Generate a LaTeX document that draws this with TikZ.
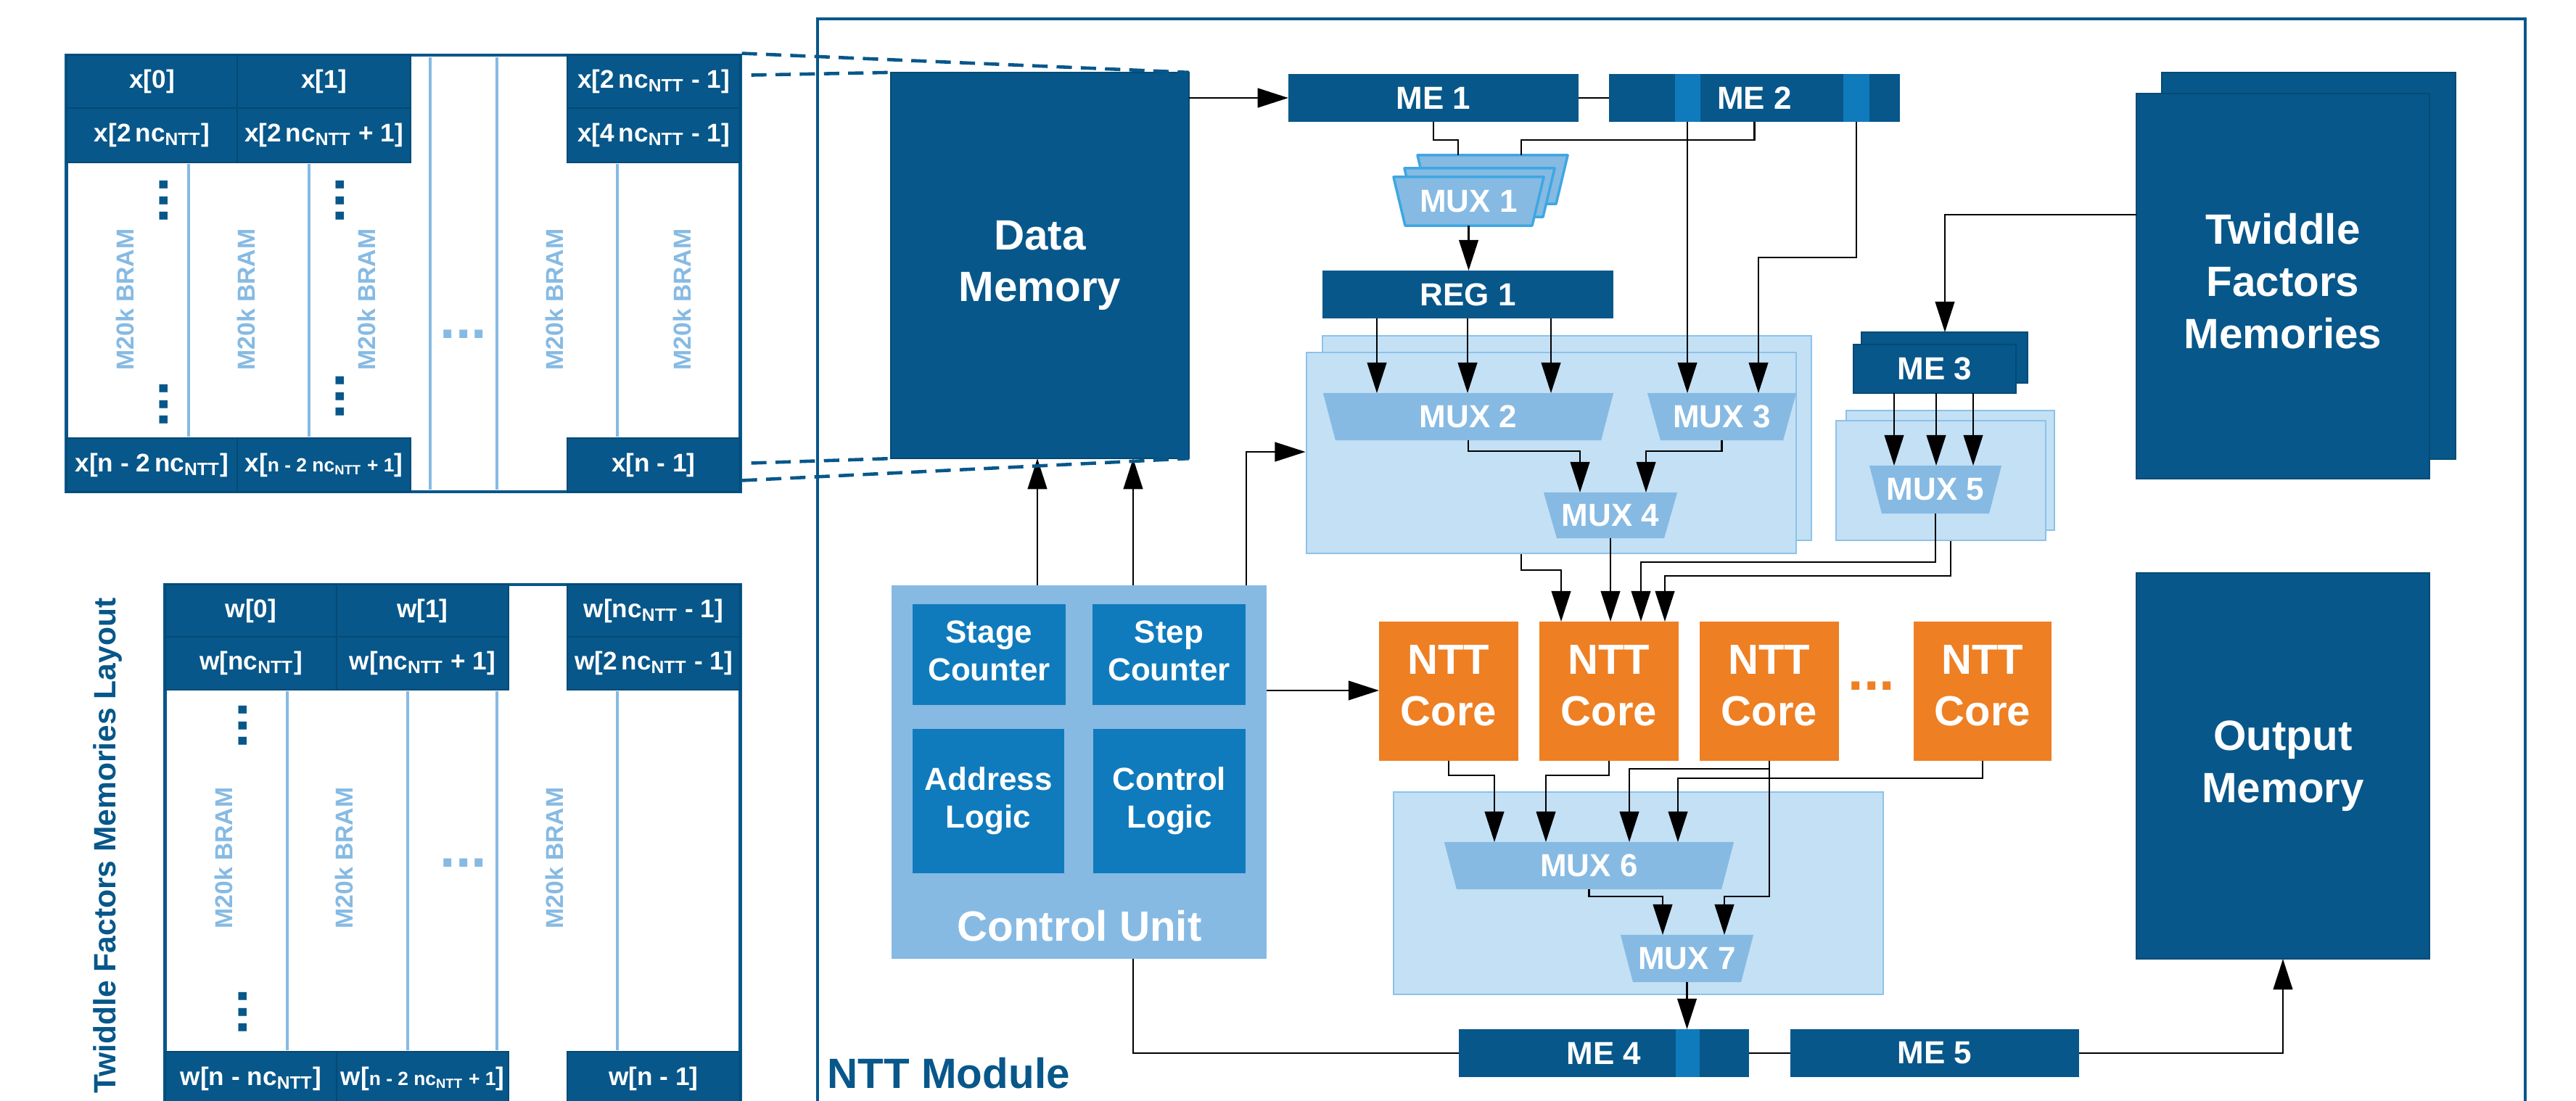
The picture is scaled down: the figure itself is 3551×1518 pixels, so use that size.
\documentclass[tikz,border=0pt]{standalone}
\usepackage{fontspec}
\setmainfont{Liberation Sans}
\usetikzlibrary{arrows.meta,calc}
\definecolor{dkblue}{HTML}{07578A}
\definecolor{dkline}{HTML}{044A75}
\definecolor{midblue}{HTML}{0F7BBC}
\definecolor{ltblue}{HTML}{86BAE3}
\definecolor{paleblue}{HTML}{C3E0F5}
\definecolor{panelline}{HTML}{8DC2E9}
\definecolor{muxline}{HTML}{3EA7E2}
\definecolor{nttorange}{HTML}{EE7F23}
\newcommand\fbig{\fontsize{16.6}{20.4}\selectfont\bfseries}
\newcommand\fcore{\fontsize{16.5}{20.1}\selectfont\bfseries}
\newcommand\fmed{\fontsize{12.5}{14.9}\selectfont\bfseries}
\newcommand\fcell{\fontsize{10}{12}\selectfont\bfseries}
\newcommand\fsmallcell{\fontsize{7.5}{9}\selectfont\bfseries}
\newcommand\fbram{\fontsize{9.6}{11}\selectfont\bfseries}
\newcommand\fdots{\fontsize{22}{22}\selectfont\bfseries}
\newcommand\NTTsub{\textsubscript{NTT}}
\newcommand\lowdepth[1]{\rule[-#1]{0pt}{0pt}}
\pgfdeclarelayer{bg}
\pgfdeclarelayer{mid}
\pgfsetlayers{bg,mid,main}
\tikzset{
  box/.style={rectangle, inner sep=0pt, outer sep=0pt, align=center, text=white},
  dk/.style={box, fill=dkblue, draw=dkline, line width=0.5pt},
  me/.style={box, fill=dkblue, minimum height=0.66cm, font=\fmed},
  muxn/.style={box, font=\fmed},
  panel/.style={rectangle, inner sep=0pt, fill=paleblue, draw=panelline, line width=0.7pt},
  cubox/.style={box, fill=midblue, font=\fmed},
  core/.style={box, fill=nttorange, minimum height=1.92cm, font=\fcore},
  cell/.style={box, fill=dkblue, draw=dkline, line width=0.6pt, font=\fcell},
  bram/.style={rotate=90, text=ltblue, font=\fbram, inner sep=0pt},
  bramline/.style={draw=ltblue, line width=1.1pt},
  tabframe/.style={rectangle, draw=dkblue, line width=1.3pt, inner sep=0pt},
  conn/.style={draw=black, line width=0.6pt},
  arr/.style={conn, -{Triangle[length=12pt,width=7.6pt]}},
  projline/.style={draw=dkblue, line width=1.3pt, dash pattern=on 6pt off 3.5pt},
  vdots/.style={rotate=90, text=dkblue, font=\fdots, inner sep=0pt},
  hdots/.style={text=ltblue, font=\fdots, inner sep=0pt},
}
\begin{document}
\begin{tikzpicture}[x=0.01cm, y=-0.01cm]
\useasboundingbox (0,0) rectangle (3551,1518);
\clip (0,0) rectangle (3551,1518);

\begin{pgfonlayer}{bg}
\fill[white] (0,0) rectangle (3551,1518);
\draw[dkblue, line width=1.3pt] (1127,1600) -- (1127,26) -- (3481,26) -- (3481,1600);
\node[panel, minimum width=6.74cm, minimum height=2.82cm] (pab) at (2160,604) {};
\node[panel, minimum width=6.75cm, minimum height=2.77cm] (paf) at (2138.5,624.5) {};
\node[panel, minimum width=2.87cm, minimum height=1.65cm] (pbb) at (2688.5,648.5) {};
\node[panel, minimum width=2.89cm, minimum height=1.65cm] (pbf) at (2675.5,662.5) {};
\node[panel, minimum width=6.75cm, minimum height=2.79cm] (pc) at (2258.5,1231.5) {};
\end{pgfonlayer}

% ---------- x table ----------
\node[tabframe, minimum width=9.28cm, minimum height=6.02cm] (xtab) at (556,377) {};
\node[cell, minimum width=2.35cm, minimum height=0.73cm] (x11) at (209.5,112.5) {x[0]};
\node[cell, minimum width=2.39cm, minimum height=0.73cm] (x12) at (446.5,112.5) {x[1]};
\node[cell, minimum width=2.38cm, minimum height=0.73cm] (x13) at (901,112.5) {x[2\,nc\NTTsub{} - 1]};
\node[cell, minimum width=2.35cm, minimum height=0.75cm] (x21) at (209.5,186.5) {x[2\,nc\NTTsub]};
\node[cell, minimum width=2.39cm, minimum height=0.75cm] (x22) at (446.5,186.5) {x[2\,nc\NTTsub{} + 1]};
\node[cell, minimum width=2.38cm, minimum height=0.75cm] (x23) at (901,186.5) {x[4\,nc\NTTsub{} - 1]};
\node[cell, minimum width=2.35cm, minimum height=0.74cm] (x31) at (209.5,641) {x[n - 2\,nc\NTTsub]};
\node[cell, minimum width=2.39cm, minimum height=0.74cm] (x32) at (446.5,641) {x[{\fsmallcell n - 2 nc\NTTsub{} + 1}]};
\node[cell, minimum width=2.38cm, minimum height=0.74cm] (x33) at (901,641) {x[n - 1]};
\foreach \x in {260,426,851} \draw[bramline] (\x,226) -- (\x,602);
\foreach \x in {593,685} \draw[bramline] (\x,79) -- (\x,675);
\foreach \x/\n in {172/1,339/2,505/3,764/4,940/5} \node[bram] (xb\n) at (\x,413) {M20k BRAM};
\node[vdots] (xd1) at (226,276.5) {...};
\node[vdots] (xd2) at (226,557.5) {...};
\node[vdots] (xd3) at (469,276.5) {...};
\node[vdots] (xd4) at (469,546.5) {...};
\node[hdots] (xd5) at (639,461) {...};

% ---------- w table ----------
\node[tabframe, minimum width=7.92cm, minimum height=7.54cm] (wtab) at (624,1183) {};
\node[cell, minimum width=2.36cm, minimum height=0.72cm] (w11) at (346,842) {w[0]};
\node[cell, minimum width=2.37cm, minimum height=0.72cm] (w12) at (582.5,842) {w[1]};
\node[cell, minimum width=2.38cm, minimum height=0.72cm] (w13) at (901,842) {w[nc\NTTsub{} - 1]};
\node[cell, minimum width=2.36cm, minimum height=0.73cm] (w21) at (346,914.5) {w[nc\NTTsub]};
\node[cell, minimum width=2.37cm, minimum height=0.73cm] (w22) at (582.5,914.5) {w[nc\NTTsub{} + 1]};
\node[cell, minimum width=2.38cm, minimum height=0.73cm] (w23) at (901,914.5) {w[2\,nc\NTTsub{} - 1]};
\node[cell, minimum width=2.36cm, minimum height=0.75cm] (w31) at (346,1487.5) {w[n - nc\NTTsub]};
\node[cell, minimum width=2.37cm, minimum height=0.75cm] (w32) at (582.5,1487.5) {w[{\fsmallcell n - 2 nc\NTTsub{} + 1}]};
\node[cell, minimum width=2.38cm, minimum height=0.75cm] (w33) at (901,1487.5) {w[n - 1]};
\foreach \x in {396,562,685,851} \draw[bramline] (\x,953) -- (\x,1448);
\foreach \x/\n in {308/1,474/2,764/3} \node[bram] (wb\n) at (\x,1183) {M20k BRAM};
\node[vdots] (wd1) at (335,1000.5) {...};
\node[vdots] (wd2) at (335,1395.5) {...};
\node[hdots] (wd3) at (639,1190) {...};
\node[rotate=90, text=dkblue, font=\fontsize{12.1}{14}\selectfont\bfseries, inner sep=0pt] (twl) at (148,1166) {Twiddle Factors Memories Layout};

% ---------- NTT module ----------
\node[anchor=base west, text=dkblue, font=\fbig, inner sep=0pt] (modlabel) at (1140,1500) {NTT Module};

\node[dk, minimum width=4.11cm, minimum height=5.32cm, font=\fbig] (dm) at (1433.5,366) {Data\\Memory};

\node[me, minimum width=4.00cm] (me1) at (1976,135) {ME 1};
\node[me, minimum width=4.01cm] (me2) at (2418.5,135) {ME 2};
\fill[midblue] (2309,102) rectangle (2344,168);
\fill[midblue] (2541,102) rectangle (2577,168);

\node[muxn, minimum width=2.07cm, minimum height=0.67cm] (mux1c) at (2057.5,247.5) {};
\node[muxn, minimum width=2.07cm, minimum height=0.67cm] (mux1b) at (2039.5,265.5) {};
\node[muxn, minimum width=2.07cm, minimum height=0.67cm] (mux1) at (2024.5,277.5) {MUX 1};

\node[me, minimum width=4.01cm] (reg1) at (2023.5,406) {REG 1};

\node[muxn, minimum width=4.00cm, minimum height=0.65cm] (mux2) at (2024,574.5) {MUX 2};
\node[muxn, minimum width=2.05cm, minimum height=0.65cm] (mux3) at (2373.5,574.5) {MUX 3};
\node[muxn, minimum width=1.84cm, minimum height=0.63cm] (mux4) at (2220,710.5) {MUX 4};

\node[dk, minimum width=2.29cm, minimum height=0.70cm] (me3b) at (2680.5,493) {};
\node[dk, minimum width=2.24cm, minimum height=0.67cm, font=\fmed] (me3) at (2667,508.5) {ME 3};
\node[muxn, minimum width=1.82cm, minimum height=0.66cm] (mux5) at (2668,675) {MUX 5};

\node[dk, minimum width=4.05cm, minimum height=5.33cm] (tfb) at (3182.5,366.5) {};
\node[dk, minimum width=4.04cm, minimum height=5.31cm, font=\fbig] (tf) at (3147,394.5) {Twiddle\\Factors\\Memories\lowdepth{4pt}};
\node[dk, minimum width=4.04cm, minimum height=5.32cm, font=\fbig] (om) at (3147,1056) {Output\\Memory};

\node[box, fill=ltblue, minimum width=5.17cm, minimum height=5.15cm] (cu) at (1487.5,1064.5) {};
\node[cubox, minimum width=2.11cm, minimum height=1.39cm] (stage) at (1363.5,902.5) {Stage\\Counter\lowdepth{3pt}};
\node[cubox, minimum width=2.11cm, minimum height=1.39cm] (step) at (1611.5,902.5) {Step\\Counter\lowdepth{3pt}};
\node[cubox, minimum width=2.09cm, minimum height=1.99cm] (addr) at (1362.5,1104.5) {Address\\Logic};
\node[cubox, minimum width=2.10cm, minimum height=1.99cm] (ctrl) at (1612,1104.5) {Control\\Logic};
\node[text=white, font=\fbig, inner sep=0pt] (culabel) at (1488,1277) {Control Unit};

\node[core, minimum width=1.92cm] (core1) at (1997,953) {NTT\\Core\lowdepth{4.5pt}};
\node[core, minimum width=1.92cm] (core2) at (2218,953) {NTT\\Core\lowdepth{4.5pt}};
\node[core, minimum width=1.92cm] (core3) at (2439,953) {NTT\\Core\lowdepth{4.5pt}};
\node[core, minimum width=1.90cm] (core4) at (2733,953) {NTT\\Core\lowdepth{4.5pt}};
\node[text=nttorange, font=\fdots, inner sep=0pt] (odots) at (2580,946) {...};

\node[muxn, minimum width=3.99cm, minimum height=0.65cm] (mux6) at (2190.5,1193.5) {MUX 6};
\node[muxn, minimum width=1.83cm, minimum height=0.65cm] (mux7) at (2325.5,1321.5) {MUX 7};

\node[me, minimum width=4.00cm] (me4) at (2211,1452) {ME 4};
\fill[midblue] (2310,1419) rectangle (2343,1485);
\node[me, minimum width=3.98cm] (me5) at (2667,1452) {ME 5};

% ---------- trapezoid bodies ----------
\begin{pgfonlayer}{mid}
\foreach \n/\d in {mux2/17, mux3/18, mux4/18, mux5/17, mux6/17, mux7/17}
  \fill[ltblue] (\n.north west) -- (\n.north east) -- ($(\n.south east)+(-\d,0)$) -- ($(\n.south west)+(\d,0)$) -- cycle;
\foreach \n in {mux1c, mux1b, mux1}
  \filldraw[fill=ltblue, draw=muxline, line width=1pt, line join=round] (\n.north west) -- (\n.north east) -- ($(\n.south east)+(-16,0)$) -- ($(\n.south west)+(16,0)$) -- cycle;
\end{pgfonlayer}

% ---------- connectors ----------
\draw[arr] (me1.west -| dm.east) -- (me1.west);
\draw[conn] (me1.east) -- (me2.west);
\draw[conn] (me1.south) |- (2010,193) -- (2010,0 |- mux1c.north);
\draw[conn] (me2.south) |- (2097,193) -- (2097,0 |- mux1c.north);
\draw[arr] (mux1.south) -- (mux1.south |- reg1.north);
\foreach \x in {1898,2023,2138} \draw[arr] (\x,0 |- reg1.south) -- (\x,0 |- mux2.north);
\draw[arr] (2326,0 |- me2.south) -- (2326,0 |- mux3.north);
\draw[arr] (2559,0 |- me2.south) |- (2424,355) -- (2424,0 |- mux3.north);
\draw[arr] (mux2.south) |- (2178,622) -- (2178,0 |- mux4.north);
\draw[arr] (mux3.south) |- (2269,622) -- (2269,0 |- mux4.north);
\draw[arr] (1718,0 |- cu.north) |- (paf.west |- 0,623);
\foreach \x in {1430,1562} \draw[arr] (\x,0 |- cu.north) -- (\x,0 |- dm.south);
\draw[arr] (cu.east |- 0,952) -- (core1.west |- 0,952);
\draw[arr] (2097,0 |- paf.south) |- (2152,786) -- (2152,0 |- core2.north);
\draw[arr] (mux4.south) -- (mux4.south |- core2.north);
\draw[arr] (mux5.south) |- (2262,775) -- (2262,0 |- core2.north);
\draw[arr] (2689,0 |- pbf.south) |- (2295,794) -- (2295,0 |- core2.north);
\draw[arr] (tf.west |- 0,296) -| (2681,0 |- me3b.north);
\foreach \x in {2611,2669,2720} \draw[arr] (\x,0 |- me3.south) -- (\x,0 |- mux5.north);
\draw[arr] (core1.south) |- (2060,1069) -- (2060,0 |- mux6.north);
\draw[arr] (core2.south) |- (2131,1069) -- (2131,0 |- mux6.north);
\draw[arr] (core3.south) |- (2246,1060) -- (2246,0 |- mux6.north);
\draw[arr] (core3.south) |- (2377,1236) -- (2377,0 |- mux7.north);
\draw[arr] (core4.south) |- (2313,1073) -- (2313,0 |- mux6.north);
\draw[arr] (mux6.south) |- (2292,1236) -- (2292,0 |- mux7.north);
\draw[arr] (mux7.south) -- (mux7.south |- me4.north);
\draw[conn] (1562,0 |- cu.south) |- (me4.west);
\draw[conn] (me4.east) -- (me5.west);
\draw[arr] (me5.east) -| (om.south);

% ---------- projection lines ----------
\draw[projline] (xtab.north east) -- (dm.north east);
\draw[projline] ($(xtab.north east)+(13,30)$) -- (dm.north west);
\draw[projline] ($(xtab.south east)+(13,-42)$) -- (dm.south west);
\draw[projline] ($(xtab.south east)+(0,-18)$) -- (dm.south east);
\end{tikzpicture}
\end{document}
